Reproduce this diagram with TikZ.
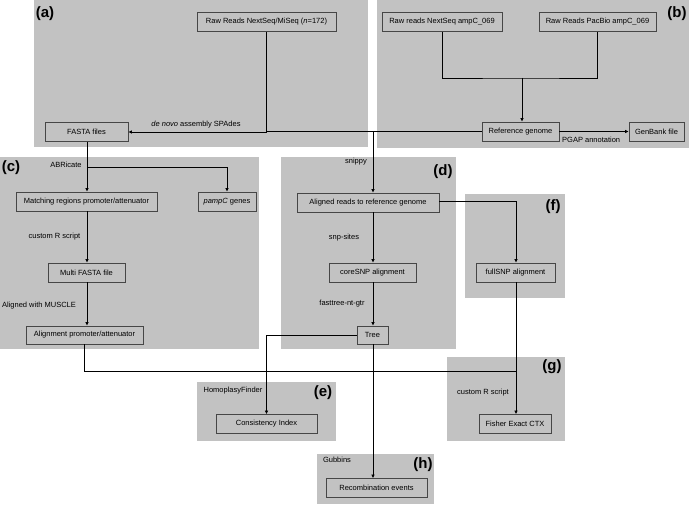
\documentclass[tikz,border=0pt]{standalone}
\usepackage{fontspec}
\setmainfont{Liberation Sans}
\usetikzlibrary{arrows.meta}
\definecolor{panelgray}{RGB}{194,194,194}
\definecolor{boxline}{RGB}{70,70,70}
\tikzset{
  panel/.style={fill=panelgray,draw=none},
  box/.style={draw=boxline,line width=0.8pt,minimum height=19pt,inner sep=0pt,font=\fontsize{7.5}{9}\selectfont,anchor=center},
  lbl/.style={inner sep=0pt,font=\fontsize{7.5}{9}\selectfont},
  plabel/.style={inner sep=0pt,font=\fontsize{15}{17}\selectfont\bfseries},
  conn/.style={draw=black,line width=0.8pt},
  arr/.style={conn,-{Latex[length=3.5pt,width=3.5pt]}}
}
\begin{document}
\begin{tikzpicture}[x=1pt,y=-1pt]
\useasboundingbox (0,0) rectangle (689,505);
% panels
\fill[panel] (34,0) rectangle (368,147);
\fill[panel] (377,0) rectangle (689,148);
\fill[panel] (0,157) rectangle (259,349);
\fill[panel] (281,157) rectangle (456,349);
\fill[panel] (465,194) rectangle (565,298);
\fill[panel] (447,357) rectangle (565,441);
\fill[panel] (197,382) rectangle (336,441);
\fill[panel] (317,454) rectangle (434,504);
% panel labels
\node[plabel] (la) at (45,14) {(a)};
\node[plabel] (lb) at (677,14) {(b)};
\node[plabel] (lc) at (11,168) {(c)};
\node[plabel] (ld) at (443,172) {(d)};
\node[plabel] (lf) at (553,207) {(f)};
\node[plabel] (lg) at (552,367) {(g)};
\node[plabel] (le) at (323,393) {(e)};
\node[plabel] (lh) at (423,465) {(h)};
% nodes
\node[box,minimum width=139pt] (raw) at (266.5,22) {Raw Reads NextSeq/MiSeq (\textit{n}=172)};
\node[box,minimum width=83pt] (fasta) at (86.5,132) {FASTA files};
\node[box,minimum width=120pt] (rawns) at (442,22) {Raw reads NextSeq ampC\_069};
\node[box,minimum width=117pt] (rawpb) at (597.5,22) {Raw Reads PacBio ampC\_069};
\node[box,minimum width=77pt] (ref) at (520.5,131.5) {Reference genome};
\node[box,minimum width=55pt] (genbank) at (656.5,131.5) {GenBank file};
\node[box,minimum width=141pt] (match) at (86.5,201.5) {Matching regions promoter/attenuator};
\node[box,minimum width=58pt] (pampc) at (227,201.5) {\textit{pampC} genes};
\node[box,minimum width=77pt] (multi) at (86.5,272.5) {Multi FASTA file};
\node[box,minimum width=117pt,minimum height=18pt] (alignpa) at (84.5,335) {Alignment promoter/attenuator};
\node[box,minimum width=142pt] (aligned) at (368,202.5) {Aligned reads to reference genome};
\node[box,minimum width=87pt] (coresnp) at (372.5,272.5) {coreSNP alignment};
\node[box,minimum width=31pt,minimum height=18pt] (tree) at (372.5,335) {Tree};
\node[box,minimum width=79pt] (fullsnp) at (515.5,272.5) {fullSNP alignment};
\node[box,minimum width=72pt] (fisher) at (515,424) {Fisher Exact CTX};
\node[box,minimum width=101pt] (consist) at (266.5,424) {Consistency Index};
\node[box,minimum width=101pt] (recomb) at (376.5,488) {Recombination events};
% edge labels
\node[lbl] (tdenovo) at (196,125) {\textit{de novo} assembly SPAdes};
\node[lbl,anchor=west] (tpgap) at (562,139.5) {PGAP annotation};
\node[lbl] (tabr) at (66,165) {ABRicate};
\node[lbl] (tcr1) at (54.5,237) {custom R script};
\node[lbl] (tmus) at (39,306) {Aligned with MUSCLE};
\node[lbl] (tsnippy) at (356,162) {snippy};
\node[lbl] (tsnp) at (344,238) {snp-sites};
\node[lbl] (tfast) at (342,304) {fasttree-nt-gtr};
\node[lbl] (tcr2) at (483,393) {custom R script};
\node[lbl] (thomo) at (233,391) {HomoplasyFinder};
\node[lbl] (tgub) at (337,460) {Gubbins};
% junction coordinates
\coordinate (jref) at (373,132);
\coordinate (jb) at (522,78);
\coordinate (jc) at (87,167);
\coordinate (jalign) at (84.5,371.5);
\coordinate (jf) at (516,201.5);
% connectors
\draw[arr] (raw.south) |- (fasta.east);
\draw[conn] (ref.west) -- (raw.south |- ref.west);
\draw[arr] (jref) -- (jref |- aligned.north);
\draw[conn] (rawns.south) |- (jb) -| (rawpb.south);
\draw[arr] (jb) -- (jb |- ref.north);
\draw[arr] (ref.east) -- (genbank.west);
\draw[arr] (fasta.south -| jc) -- (jc |- match.north);
\draw[arr] (jc) -| (pampc.north);
\draw[arr] (match.south -| jc) -- (jc |- multi.north);
\draw[arr] (multi.south -| jc) -- (jc |- alignpa.north);
\draw[conn] (alignpa.south) -- (jalign) -- (jalign -| fullsnp.south);
\draw[arr] (jf -| aligned.east) -- (jf) -- (jf |- fullsnp.north);
\draw[arr] (fullsnp.south -| jf) -- (jf |- fisher.north);
\draw[arr] (aligned.south -| jref) -- (jref |- coresnp.north);
\draw[arr] (coresnp.south -| jref) -- (jref |- tree.north);
\draw[arr] (tree.west) -| (consist.north);
\draw[arr] (tree.south -| jref) -- (jref |- recomb.north);
\end{tikzpicture}
\end{document}
